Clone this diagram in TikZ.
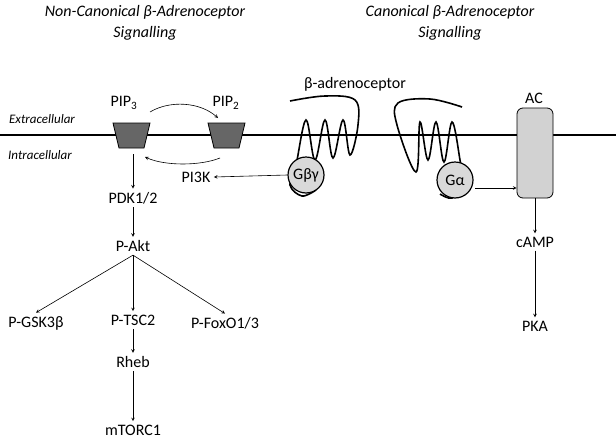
\documentclass[tikz,border=0pt]{standalone}
\usepackage{fontspec}
\setmainfont{Carlito}
\usetikzlibrary{arrows,shapes,calc}
\tikzset{
	lbl/.style={font=\fontsize{16}{18}\selectfont},
	hdr/.style={font=\fontsize{16}{18}\selectfont\itshape},
	arr/.style={->,>=stealth,semithick},
	pip/.style={draw,thick,fill=gray!80!black},
	gprot/.style={circle,draw,very thick,fill=gray!30,minimum size=36pt,inner sep=0pt,font=\fontsize{16}{18}\selectfont}
}
\begin{document}
\begin{tikzpicture}[x=1pt,y=-1pt]
	\useasboundingbox (0,0) rectangle (616,442);
	
	\node[hdr] (h1) at (145,12) {Non-Canonical β-Adrenoceptor};
	\node[hdr] (h1b) at (145,33) {Signalling};
	\node[hdr] (h2) at (450,12) {Canonical β-Adrenoceptor};
	\node[hdr] (h2b) at (450,33) {Signalling};
	
	% membrane
	\draw[line width=1.5pt] (0,135) -- (616,135);
	\node[font=\fontsize{13}{15}\selectfont\itshape] (ext) at (42,119) {Extracellular};
	\node[font=\fontsize{13}{15}\selectfont\itshape] (int) at (40,155) {Intracellular};
	
	\draw[pip] (113,123) -- (150,123) -- (144,148) -- (119,148) -- cycle;
	\draw[pip] (208,123) -- (245,123) -- (239,148) -- (214,148) -- cycle;
	\coordinate (t1) at (131,148);
	\node[lbl] (pip3) at (124,103) {PIP\textsubscript{3}};
	\node[lbl] (pip2) at (226,103) {PIP\textsubscript{2}};
	\draw[arr] (150,112) .. controls (170,100) and (200,102) .. (218,118);
	\draw[arr] (220,158) .. controls (200,166) and (165,166) .. (145,157);
	
	% receptors
	\draw[line width=1.6pt] plot[smooth,tension=.6] coordinates {(290,101) (325,96) (355,100) (358,125) (350,155) (343,120) (333,158) (325,120) (315,160) (306,120) (296,165) (290,185) (302,196) (316,190)};
	\draw[line width=1.6pt] plot[smooth,tension=.6] coordinates {(462,107) (430,99) (398,103) (397,125) (416,172) (420,122) (428,160) (436,122) (444,162) (452,122) (460,160) (463,185) (452,198) (440,194)};
	\node[gprot] (gby) at (306,175) {Gβγ};
	\node[gprot] (ga) at (455,180) {Gα};
	\node[lbl] (bar) at (355,84) {β-adrenoceptor};
	
	\node[draw,thick,rounded corners=6pt,fill=gray!35,minimum width=36pt,minimum height=90pt] (ac) at (535,153) {};
	\node[lbl] (aclbl) at (534,98) {AC};
	
	\node[lbl] (pi3k) at (196,177) {PI3K};
	\node[lbl] (pdk) at (133,198) {PDK1/2};
	\node[lbl] (akt) at (133,246) {P-Akt};
	\node[lbl] (gsk) at (36,323) {P-GSK3β};
	\node[lbl] (tsc) at (133,320) {P-TSC2};
	\node[lbl] (fox) at (225,323) {P-FoxO1/3};
	\node[lbl] (rheb) at (133,362) {Rheb};
	\node[lbl] (mtor) at (133,430) {mTORC1};
	\node[lbl] (camp) at (535,242) {cAMP};
	\node[lbl] (pka) at (535,326) {PKA};
	
	\coordinate (gaout) at (475,188);
	\draw[arr] (gby.west) -- (pi3k.east);
	\draw[arr] (gaout) -- (gaout -| ac.west);
	\draw[arr] ($(t1)+(2,6)$) -- (pdk.north);
	\draw[arr] (pdk.south) -- (akt.north);
	\draw[arr] (akt.south) -- (gsk.north);
	\draw[arr] (akt.south) -- (tsc.north);
	\draw[arr] (akt.south) -- (fox.north);
	\draw[arr] (tsc.south) -- (rheb.north);
	\draw[arr] (rheb.south) -- (mtor.north);
	\draw[arr] (ac.south) -- (camp.north);
	\draw[arr] (camp.south) -- (pka.north);
\end{tikzpicture}
\end{document}
